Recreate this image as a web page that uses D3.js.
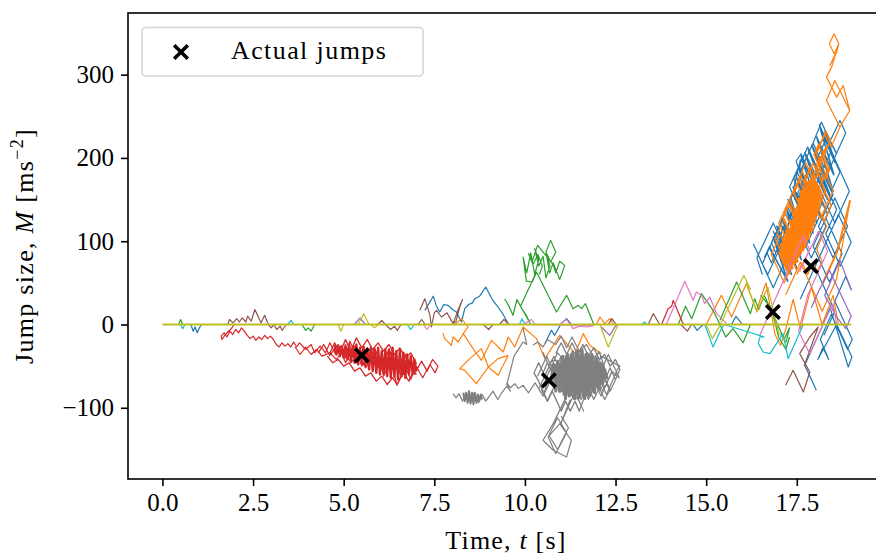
<!DOCTYPE html>
<html>
<head>
<meta charset="utf-8">
<script src="https://cdn.jsdelivr.net/npm/d3@7"></script>
<style>
  html, body { margin: 0; padding: 0; background: #fff; overflow: hidden; }
  text { font-family: "Liberation Serif", serif; fill: #000; }
</style>
</head>
<body>
<div id="chart"></div>
<script>
// tick labels
let xTicks = [0, 2.5, 5, 7.5, 10, 12.5, 15, 17.5];
let yTicks = [-100, 0, 100, 200, 300];

// actual jumps [t, M]
let jumps = [[5.5, -37], [10.66, -67], [16.84, 15], [17.89, 70]];

// each list is one particle path as [t, M]
let zeroLine = [[0, 0], [19, 0]];

let smallGreen = [[0.45,0],[0.5,6],[0.56,0]];
let smallCyan = [[0.5,0],[0.56,-5],[0.62,0]];
let smallBlue = [[0.78,0],[0.85,-8],[0.9,-3],[0.96,-10],[1.02,-4],[1.08,0]];
let smallBrown = [[1.8,0],[1.85,6],[1.95,2],[2.05,7],[2.12,3],[2.2,8],[2.3,3],[2.35,10],[2.45,4],[2.55,18],[2.72,2],[2.82,11],[2.92,0],[3.0,-4],[3.08,0],[3.15,-6],[3.25,-2],[3.3,-7],[3.42,0]];
let smallGreen2 = [[3.85,0],[3.95,-7],[4.02,-4],[4.1,-8],[4.2,0]];
let smallOlive = [[4.85,0],[4.92,-8],[5.0,0],[5.4,0],[5.55,13],[5.7,0],[5.75,0],[5.85,-4],[5.95,0]];
let smallPurple = [[5.3,0],[5.45,8],[5.6,0]];
let smallBrown2 = [[5.95,0],[6.05,5],[6.15,0],[6.3,-6],[6.4,-2],[6.48,-7],[6.58,0],[7.05,0],[7.15,6],[7.25,0]];
let smallCyan2 = [[6.75,0],[6.85,-6],[6.95,0],[3.45,0],[3.55,5],[3.62,0]];
let smallPink = [[7.2,0],[7.3,-6],[7.4,0]];

let redPath = [[1.98,0],[1.9,-5],[1.8,-9],[1.72,-13],[1.64,-18],[1.62,-14],[1.7,-10],[1.78,-15],[1.86,-8],[1.94,-12],[2.02,-6],[2.1,-10],[2.18,-4],[2.26,-8],[2.34,-13],[2.42,-17],[2.5,-14],[2.58,-19],[2.66,-15],[2.74,-18],[2.82,-13],[2.9,-17],[2.98,-14],[3.06,-18],[3.14,-24],[3.22,-27],[3.3,-22],[3.38,-26],[3.46,-23],[3.54,-27],[3.62,-21],[3.7,-27],[3.78,-22],[3.95,-30],[4.1,-24],[4.2,-34],[4.35,-26],[4.5,-34],[4.62,-22],[4.78,-36],[4.9,-26],[5.05,-40],[5.17,-20],[5.4,-42],[5.55,-28],[5.7,-44],[5.85,-28],[6.05,-50],[6.25,-30],[6.55,-58],[6.35,-38],[6.1,-62],[6.3,-44],[6.47,-73],[6.7,-50],[6.85,-66],[7.0,-50],[7.18,-64],[7.38,-48],[7.52,-58],[7.6,-50],[7.45,-42],[7.3,-56],[7.15,-44],[6.95,-60],[6.75,-42]];
let redEdge = [[3.66,-27],[3.8,-36],[3.95,-27],[4.1,-36],[4.25,-30],[4.4,-38],[4.62,-34],[4.8,-42],[5.0,-30],[5.2,-46],[5.4,-34],[5.6,-52],[5.85,-36],[6.1,-58],[6.3,-34],[6.6,-62],[6.8,-44],[7.0,-60],[6.7,-36],[6.5,-54],[6.2,-34],[6.0,-54],[5.75,-30],[5.5,-50],[5.3,-26],[5.05,-46],[4.85,-24],[4.6,-38]];
let redRim = [[4.3,-34],[4.45,-24],[4.6,-36],[4.75,-22],[4.9,-34],[5.05,-18],[5.2,-32],[5.35,-16],[5.5,-28],[5.65,-18],[5.8,-30],[5.95,-22],[6.1,-32],[6.25,-24],[6.4,-36],[6.55,-28],[6.7,-40],[6.85,-34],[7.0,-46],[6.9,-58],[6.8,-68],[6.65,-58],[6.47,-72],[6.35,-64],[6.2,-72],[6.05,-62],[5.9,-68],[5.75,-58],[5.6,-62],[5.45,-52],[5.3,-56],[5.15,-46],[5.0,-50],[4.85,-42],[4.7,-46],[4.55,-38]];
let redDense = [[4.75,-25],[4.8,-36],[4.85,-27],[4.9,-38],[4.95,-26],[5.0,-40],[5.05,-25],[5.1,-42],[5.15,-24],[5.2,-44],[5.25,-26],[5.3,-46],[5.35,-24],[5.4,-48],[5.45,-28],[5.5,-47],[5.55,-27],[5.6,-50],[5.65,-29],[5.7,-54],[5.75,-28],[5.8,-56],[5.85,-30],[5.9,-58],[5.95,-28],[6.0,-60],[6.05,-32],[6.1,-60],[6.15,-30],[6.2,-62],[6.25,-30],[6.3,-64],[6.35,-28],[6.4,-63],[6.45,-32],[6.5,-66],[6.55,-31],[6.6,-62],[6.65,-34],[6.7,-64],[6.75,-36],[6.8,-60],[6.85,-38],[6.9,-58],[6.95,-42],[7.0,-56]];

let blueMid = [[7.24,17],[7.47,34],[7.56,22],[7.65,15],[7.76,24],[7.88,23],[8.0,18],[8.11,15],[8.25,3],[8.34,19],[8.45,24],[8.55,26],[8.62,31],[8.75,34],[8.92,45],[9.1,30],[9.26,21],[9.4,12],[9.54,1]];
let brownMid = [[7.1,17],[7.24,31],[7.38,11],[7.42,-3],[7.5,14],[7.56,17],[7.7,9],[7.85,14],[8.02,1],[8.15,17],[8.28,30],[8.2,21],[8.1,4],[8.0,0]];
let brownSmall3 = [[8.85,0],[9.0,-6],[9.12,0],[9.3,0],[9.42,6],[9.56,0]];

let orangeMid = [[8.07,0],[8.25,7],[8.43,-3],[8.3,-11],[8.16,-21],[8.02,-15],[7.97,-25],[7.79,-17],[7.74,-11],[7.79,-17],[7.97,-25],[8.02,-15],[8.16,-21],[8.3,-11],[8.57,-29],[8.8,-43],[9.08,-19],[9.4,-33],[9.54,-15],[9.72,-27],[9.95,-3],[10.32,-17],[10.55,-41],[10.96,-13],[11.38,-35],[11.61,-11],[11.79,-25],[12.11,-35]];
let orangeLoop = [[9.54,-37],[9.26,-61],[8.99,-51],[8.66,-71],[8.34,-55],[8.2,-53],[8.48,-41],[8.8,-29],[8.99,-51],[9.26,-41],[9.54,-37]];
let orangeZero = [[11.98,1],[12.07,9],[12.2,1],[12.34,7],[12.45,0]];

let greenPath = [[9.44,31],[9.56,22],[9.67,11],[9.78,30],[9.9,20],[10.05,10],[10.15,1],[9.88,22],[10.05,38],[10.32,63],[10.87,15],[11.15,35],[11.33,19],[11.47,23],[11.56,19],[11.67,25],[11.9,0]];
let greenCluster = [[10.32,63],[10.2,51],[10.04,52],[9.95,81],[10.05,62],[10.16,86],[10.27,60],[10.38,78],[10.27,91],[10.38,70],[10.5,82],[10.58,56],[10.69,70],[10.58,87],[10.71,101],[10.85,87],[10.71,75],[10.58,87],[10.68,62],[10.78,74],[10.96,54],[11.1,71],[10.96,76],[10.85,62],[10.78,72],[10.35,95],[10.2,76],[10.1,85],[10.22,72],[10.36,84],[10.48,70],[10.4,60]];

let grayLeft = [[8.02,-83],[8.1,-88],[8.18,-83],[8.28,-92],[8.38,-82],[8.5,-94],[8.6,-82],[8.72,-94],[8.82,-84],[8.92,-92],[9.02,-86],[9.12,-80],[9.25,-90],[9.36,-82],[9.5,-74],[9.6,-80],[9.5,-72],[9.7,-38],[9.95,-21],[10.05,-24],[9.95,-5]];
let grayMiddle = [[9.5,-70],[9.6,-76],[9.72,-71],[9.82,-77],[9.95,-73],[10.1,-82],[10.28,-70],[10.5,-86],[10.62,-70]];
let grayLeftDense = [[8.3,-82],[8.34,-92],[8.38,-82],[8.42,-94],[8.46,-80],[8.5,-95],[8.54,-82],[8.58,-96],[8.62,-82],[8.66,-94],[8.7,-84],[8.74,-92],[8.78,-84],[8.82,-90]];
let grayUpper = [[10.22,-25],[10.35,-21],[10.5,-27],[10.62,-18],[10.85,-24],[11.0,-14],[11.15,-28],[11.3,-15],[11.5,-32],[11.7,-24],[11.9,-40],[12.05,-33],[12.2,-52]];
let grayHatch = [[10.35,-62],[10.6,-38],[11.05,-81],[11.55,-33],[12.1,-86],[12.4,-57],[12.2,-76],[11.8,-38],[11.3,-86],[10.8,-38],[10.4,-76],[10.75,-42],[11.2,-85],[11.7,-37],[12.15,-80],[12.4,-56],[12.6,-64],[12.3,-36],[11.75,-90],[11.45,-60],[10.9,-34],[10.45,-78],[10.62,-92],[11.2,-38],[11.65,-84],[11.95,-55],[12.25,-84],[12.55,-54],[12.62,-50],[12.1,-38],[11.55,-90],[11.0,-38],[10.55,-82],[10.9,-48],[11.35,-90],[11.9,-38],[12.35,-80],[12.5,-66]];
let grayRim = [[10.85,-35],[11.0,-22],[11.15,-36],[11.3,-22],[11.45,-36],[11.6,-24],[11.75,-38],[11.9,-28],[12.05,-42],[12.2,-36],[12.35,-50],[12.5,-42],[12.62,-54],[12.5,-66],[12.35,-52],[12.22,-66],[12.35,-78],[12.2,-90],[12.05,-76],[11.9,-90],[11.75,-76],[11.6,-92],[11.5,-104],[11.38,-92],[11.25,-104],[11.12,-92],[11.0,-104],[10.88,-92],[10.75,-80],[10.62,-92],[10.5,-80],[10.38,-68],[10.25,-58],[10.38,-46],[10.5,-58],[10.62,-46],[10.5,-34],[10.75,-58],[10.88,-46],[11.0,-58]];
let grayDown = [[11.15,-86],[10.78,-119],[10.5,-139],[10.78,-151],[11.15,-159],[11.28,-139],[10.96,-119],[10.64,-135],[10.85,-155],[11.15,-130],[10.9,-112],[10.66,-133],[10.9,-150],[11.2,-124],[11.0,-110]];
let grayDown2 = [[11.45,-88],[11.62,-104],[11.5,-92],[11.35,-84],[11.0,-118],[11.25,-90]];
let grayDense = [[10.75,-60],[10.8,-50],[10.85,-72],[10.9,-44],[10.95,-80],[11.02,-40],[11.08,-84],[11.15,-38],[11.22,-86],[11.28,-36],[11.35,-86],[11.42,-34],[11.48,-88],[11.55,-33],[11.62,-86],[11.68,-36],[11.75,-84],[11.82,-38],[11.88,-80],[11.95,-42],[12.02,-76],[12.08,-46],[12.15,-70],[12.2,-54],[12.26,-64],[12.22,-58],[12.12,-48],[12.05,-78],[11.98,-40],[11.92,-82],[11.85,-36],[11.78,-86],[11.72,-35],[11.65,-89],[11.58,-31],[11.52,-86],[11.45,-32],[11.38,-89],[11.32,-33],[11.25,-84],[11.18,-36],[11.12,-89],[11.05,-38],[10.98,-80],[10.92,-46],[10.85,-80],[10.78,-48],[10.72,-70]];

let pinkZero = [[10.95,0],[11.15,6],[11.33,-5],[11.5,-2],[11.7,-3],[11.9,-1],[9.95,0],[10.18,6],[10.28,0]];
let blueZero = [[10.55,-23],[10.73,-7],[10.82,-13],[11.0,1],[11.15,7],[11.28,0]];
let oliveV = [[12.07,0],[12.3,-27],[12.57,0]];
let purpleV = [[12.11,-3],[12.34,-13],[12.48,-3],[12.55,0]];
let cyanSmall = [[9.85,0],[9.92,7],[10.0,0],[13.22,0],[13.3,3],[13.36,0]];
let brownZero = [[12.3,0],[12.4,7],[12.52,0],[13.4,0],[13.54,13],[13.72,0],[14.3,0],[14.48,-8],[14.6,0]];

let redSmall = [[13.77,0],[13.95,19],[14.05,22],[14.09,29],[14.37,0]];
let pinkLate = [[13.9,0],[14.41,52],[14.64,29],[14.73,39],[14.87,35],[14.96,25],[15.1,33],[15.29,13],[15.56,1]];
let greenLate = [[14.23,0],[14.43,22],[14.6,7],[14.87,37],[15.19,17],[15.38,0],[15.54,-15],[15.74,-5],[16.02,-22],[16.22,0]];
let greenLate2 = [[15.38,5],[15.84,51],[16.22,13],[16.34,31],[16.45,18],[16.6,35],[16.95,2],[17.15,-18],[17.3,-4],[17.2,-22]];
let blueSmall = [[14.64,0],[14.75,-7],[14.92,0],[15.7,0],[15.82,10],[16.0,0]];
let cyanLate = [[14.96,0],[15.19,-27],[15.42,-5],[15.5,0],[16.6,-15],[16.48,-15],[16.44,-23],[16.57,-33],[16.76,-35],[17.12,-11],[17.26,-41],[17.68,0]];
let oliveLate = [[15.0,0],[15.17,-17],[15.38,-1],[16.04,59],[16.22,42],[16.1,50],[16.4,15],[16.7,45],[17.0,-10],[17.2,-20]];
let orangeLate = [[15.0,0],[15.42,35],[15.7,9],[16.11,49],[16.39,17],[16.65,50],[16.9,-12],[17.05,-25],[17.2,-5],[17.4,30],[17.6,-5],[17.9,45],[18.2,0],[18.5,35],[18.65,0]];
let brownLate = [[17.19,-73],[17.4,-55],[17.68,-81],[17.86,-57],[17.58,-35],[17.86,-15],[18.09,-3],[17.7,-50]];
let blueLower = [[18.04,-79],[17.72,-49],[18.1,-12],[18.42,20],[18.92,-51],[19.02,-39],[18.6,0],[18.08,-42],[18.22,-28],[18.38,-42],[18.15,-18],[18.45,12],[18.9,-30],[19.03,-18],[18.55,28],[18.85,58],[19.0,42]];
let purpleLate = [[19.01,41],[18.69,77],[18.27,35],[18.6,9],[18.85,-5],[19.0,10],[18.4,65],[18.1,40],[17.9,20]];
let pinkUp = [[16.48,-13],[16.85,25],[17.3,69],[17.68,106],[17.85,90],[17.58,64],[18.1,112],[18.35,88],[17.8,35],[17.55,-8],[17.86,-35],[18.2,-2],[18.5,25],[18.6,0]];
let greenSmallX = [[16.5,35],[16.8,20],[17.0,-15],[17.2,-30],[17.3,-15]];

// dense upper cluster
let bluePath = [[16.3,97],[16.85,44],[17.2,78],[16.85,112],[17.3,69],[17.7,107],[17.25,150],[17.75,102],[18.05,131],[17.5,184],[17.8,213],[18.15,179],[18.45,208],[18.12,240],[18.6,194],[18.95,160],[18.55,122],[18.1,165],[17.7,127],[17.3,165],[17.55,189],[18.05,141],[17.65,103],[17.25,141],[16.95,112],[16.55,73],[16.7,60],[17.1,98],[16.85,122],[16.4,80],[16.55,60]];
let blueHatch = [[17.45,150],[17.8,184],[18.2,146],[17.85,112],[17.5,146],[17.75,170],[18.15,132],[17.75,94],[17.45,123],[17.85,161],[18.3,118],[17.9,80],[17.5,118],[18.0,166],[18.35,132],[17.95,94],[18.4,51],[18.75,85],[18.3,128],[18.55,152],[18.9,118],[18.5,80],[18.1,118],[18.5,156],[18.15,190],[17.65,142],[17.42,164],[17.6,198],[17.58,182],[17.95,218],[18.25,189],[17.9,155],[17.6,184],[17.95,218],[18.18,243],[18.35,227],[18.05,198],[18.45,160],[18.69,183],[18.36,215],[18.69,245],[18.85,230],[18.55,201],[18.25,172],[18.6,138],[18.3,109],[18.7,70],[19.0,99],[18.65,132],[18.35,103],[18.0,69],[17.6,31],[18.0,69],[18.25,45],[18.55,16],[18.25,-13]];
let blueRim = [[16.6,80],[16.75,94],[16.88,82],[17.0,94],[17.12,118],[17.22,108],[17.3,130],[17.42,140],[17.34,152],[17.5,165],[17.42,175],[17.55,188],[17.48,196],[17.62,205],[17.72,195],[17.6,183],[17.72,171],[17.6,159],[17.48,148],[17.38,158],[17.28,148],[17.4,136],[17.28,124],[17.18,134],[17.05,122],[17.17,110],[17.05,98],[16.92,110],[16.8,98],[16.92,86],[16.8,74],[16.68,86]];
let blueDense = [[16.75,92],[17.25,52],[16.85,105],[17.35,60],[16.95,118],[17.5,66],[17.1,128],[17.62,78],[17.2,140],[17.72,92],[17.3,150],[17.85,98],[17.4,165],[17.95,110],[17.5,176],[18.05,122],[17.55,190],[18.15,130],[17.62,202],[18.25,142],[17.72,206],[18.35,150],[17.82,210],[18.45,150],[17.92,215],[18.5,160],[18.05,225],[18.52,180],[18.15,235],[18.55,195],[18.28,232],[18.6,205]];
let orangePath = [[18.53,349],[18.66,337],[18.53,325],[18.4,337],[18.53,349],[18.66,337],[18.6,327],[18.41,311],[18.58,326],[18.46,309],[18.32,297],[18.6,273],[18.78,287],[18.96,257],[18.69,237],[18.32,269],[18.55,293],[18.96,257],[18.69,237],[18.45,213],[18.27,228],[18.04,205],[18.5,161],[18.15,127],[17.7,170],[17.95,194],[18.3,160],[17.95,127],[17.5,170],[17.75,194],[18.2,151],[17.85,117],[17.4,160],[17.65,184],[18.1,141],[17.75,107],[17.3,150],[17.55,174],[18.0,131],[17.6,93],[17.15,136],[17.4,160],[17.85,117],[17.45,79],[17.0,122],[17.25,146],[17.7,103],[17.3,65],[16.9,103],[17.15,127],[17.55,89],[17.15,50],[16.8,84],[17.05,108],[17.5,65],[17.2,36],[17.6,75],[18.0,36],[18.2,16],[18.6,55],[18.97,149]];
let orangeThick = [[18.2,48],[18.62,88],[18.97,149]];
let orangeUpper = [[18.42,221],[18.2,200],[18.35,186],[18.1,162],[17.95,178],[18.12,194],[18.3,212],[18.02,190],[18.2,172],[17.98,150],[18.25,124],[18.45,143],[18.2,166]];
let orangeRim = [[17.1,100],[17.25,115],[17.12,128],[17.3,145],[17.42,133],[17.55,146],[17.42,158],[17.62,178],[17.72,168],[17.6,156],[17.75,142],[17.9,156],[17.72,174],[17.88,190],[18.02,176],[18.14,188],[17.98,204],[18.1,216],[18.25,202],[18.12,190],[18.28,174],[18.4,186],[18.25,202],[18.42,221],[18.3,232],[18.2,222],[18.05,208]];
let orangeRim2 = [[17.5,60],[17.65,74],[17.8,60],[17.95,74],[18.05,62],[18.2,76],[18.05,90],[18.18,104],[18.32,118],[18.2,130],[18.3,140],[18.15,154]];
let orangeDense = [[17.02,88],[17.28,62],[17.08,96],[17.36,68],[17.14,100],[17.42,74],[17.2,104],[17.5,76],[17.22,112],[17.54,82],[17.3,114],[17.6,86],[17.32,124],[17.66,90],[17.4,124],[17.72,94],[17.42,132],[17.76,100],[17.48,136],[17.82,104],[17.54,140],[17.86,110],[17.56,150],[17.92,114],[17.62,152],[17.96,120],[17.66,158],[18.0,126],[17.72,162],[18.04,132],[17.78,164],[18.08,138],[17.82,170],[18.12,142],[17.88,172],[18.14,150],[17.92,178],[18.18,156]];

// [values, colour, line width in px]
let tab = { blue: "#1f77b4", orange: "#ff7f0e", green: "#2ca02c", red: "#d62728", purple: "#9467bd",
            brown: "#8c564b", pink: "#e377c2", gray: "#7f7f7f", olive: "#bcbd22", cyan: "#17becf" };
let thin = 1.2;
let traces = [
  [smallBlue, tab.blue, thin], [blueMid, tab.blue, thin], [blueZero, tab.blue, thin], [blueSmall, tab.blue, thin], [blueLower, tab.blue, thin],
  [bluePath, tab.blue, thin], [blueHatch, tab.blue, thin], [blueRim, tab.blue, thin], [blueDense, tab.blue, 1.6],
  [orangeMid, tab.orange, thin], [orangeLoop, tab.orange, thin], [orangeZero, tab.orange, thin], [orangeLate, tab.orange, thin],
  [orangePath, tab.orange, thin], [orangeThick, tab.orange, 2], [orangeUpper, tab.orange, 1.4], [orangeRim, tab.orange, 1.6], [orangeRim2, tab.orange, thin], [orangeDense, tab.orange, 3.6],
  [smallGreen, tab.green, thin], [smallGreen2, tab.green, thin], [greenPath, tab.green, thin], [greenCluster, tab.green, thin], [greenLate, tab.green, thin], [greenLate2, tab.green, thin], [greenSmallX, tab.green, thin],
  [redPath, tab.red, thin], [redEdge, tab.red, thin], [redRim, tab.red, 1.3], [redSmall, tab.red, thin], [redDense, tab.red, 2.4],
  [smallPurple, tab.purple, thin], [purpleV, tab.purple, thin], [purpleLate, tab.purple, thin],
  [smallBrown, tab.brown, thin], [smallBrown2, tab.brown, thin], [brownMid, tab.brown, thin], [brownSmall3, tab.brown, thin], [brownZero, tab.brown, thin], [brownLate, tab.brown, thin],
  [smallPink, tab.pink, thin], [pinkZero, tab.pink, thin], [pinkLate, tab.pink, thin], [pinkUp, tab.pink, thin],
  [grayLeft, tab.gray, thin], [grayMiddle, tab.gray, thin], [grayLeftDense, tab.gray, 2], [grayUpper, tab.gray, thin], [grayHatch, tab.gray, thin], [grayRim, tab.gray, 1.3],
  [grayDown, tab.gray, thin], [grayDown2, tab.gray, thin], [grayDense, tab.gray, 3],
  [smallOlive, tab.olive, thin], [oliveV, tab.olive, thin], [oliveLate, tab.olive, thin],
  [smallCyan, tab.cyan, thin], [smallCyan2, tab.cyan, thin], [cyanSmall, tab.cyan, thin], [cyanLate, tab.cyan, thin]
];

let width = 876, height = 555;
let left = 128, right = 885.6, top_ = 13, bottom = 479;

let x = d3.scaleLinear().domain([-0.95, 19.95]).range([left, right]);
let y = d3.scaleLinear().domain([-185.5, 374]).range([bottom, top_]);

let svg = d3.select("#chart").append("svg")
    .attr("width", width)
    .attr("height", height)
    .style("display", "block");

let line = d3.line().x((d) => x(d[0])).y((d) => y(d[1]));

svg.append("g").selectAll("path")
    .data(traces)
    .enter().append("path")
    .attr("d", (d) => line(d[0]))
    .attr("fill", "none")
    .attr("stroke", (d) => d[1])
    .attr("stroke-width", (d) => d[2])
    .attr("stroke-linejoin", "round");

svg.append("path")
    .attr("d", line(zeroLine))
    .attr("fill", "none")
    .attr("stroke", tab.olive)
    .attr("stroke-width", 2);

// crosses, same glyph in the plot and the legend
let crossPath = "M-6.8,-6.8L6.8,6.8M-6.8,6.8L6.8,-6.8";
svg.append("g").selectAll("path")
    .data(jumps)
    .enter().append("path")
    .attr("transform", (d) => "translate(" + x(d[0]) + "," + y(d[1]) + ")")
    .attr("d", crossPath)
    .attr("fill", "none")
    .attr("stroke", "#000")
    .attr("stroke-width", 3.6);

// frame
svg.append("rect")
    .attr("x", left)
    .attr("y", top_)
    .attr("width", right - left)
    .attr("height", bottom - top_)
    .attr("fill", "none")
    .attr("stroke", "#000")
    .attr("stroke-width", 1.6);

let xAxis = svg.append("g")
    .attr("transform", "translate(0," + bottom + ")")
    .call(d3.axisBottom(x).tickValues(xTicks).tickSize(7).tickPadding(7).tickFormat(d3.format(".1f")));
let yAxis = svg.append("g")
    .attr("transform", "translate(" + left + ",0)")
    .call(d3.axisLeft(y).tickValues(yTicks).tickSize(7).tickPadding(7).tickFormat((d) => d < 0 ? "\u2212" + (-d) : d));

[xAxis, yAxis].forEach((axis) => {
  axis.select(".domain").remove();
  axis.selectAll(".tick line").attr("stroke", "#000").attr("stroke-width", 1.6);
  axis.selectAll(".tick text").attr("fill", "#000").style("font-size", "25px").style("font-family", "'Liberation Serif', serif");
});

// axis labels, spaced out a little since the original face runs wider
let xLabel = svg.append("text")
    .attr("x", 506)
    .attr("y", 549)
    .attr("text-anchor", "middle")
    .style("font-size", "26px")
    .style("letter-spacing", "1.2px");
xLabel.append("tspan").text("Time, ");
xLabel.append("tspan").style("font-style", "italic").text("t");
xLabel.append("tspan").text(" [s]");

let yLabel = svg.append("text")
    .attr("transform", "translate(33,246) rotate(-90)")
    .attr("text-anchor", "middle")
    .style("font-size", "26px")
    .style("letter-spacing", "1.3px");
yLabel.append("tspan").text("Jump size, ");
yLabel.append("tspan").style("font-style", "italic").text("M");
yLabel.append("tspan").text(" [ms");
yLabel.append("tspan").attr("dy", -10).style("font-size", "18px").text("\u22122");
yLabel.append("tspan").attr("dy", 10).text("]");

// legend
let legend = svg.append("g");
legend.append("rect")
    .attr("x", 142)
    .attr("y", 27.5)
    .attr("width", 281)
    .attr("height", 48.5)
    .attr("rx", 4)
    .attr("fill", "#fff")
    .attr("fill-opacity", 0.8)
    .attr("stroke", "#d5d5d5")
    .attr("stroke-width", 1.6);
legend.append("path")
    .attr("transform", "translate(181,52)")
    .attr("d", crossPath)
    .attr("fill", "none")
    .attr("stroke", "#000")
    .attr("stroke-width", 3.6);
legend.append("text")
    .attr("x", 231)
    .attr("y", 59)
    .style("font-size", "26px")
    .style("letter-spacing", "1.4px")
    .text("Actual jumps");
</script>
</body>
</html>
